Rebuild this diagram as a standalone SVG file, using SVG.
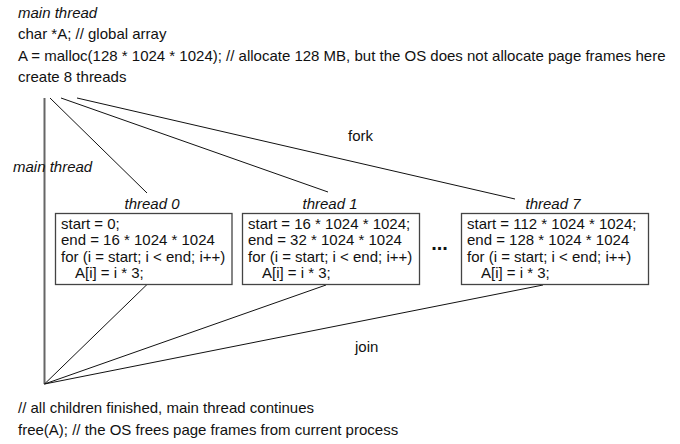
<svg xmlns="http://www.w3.org/2000/svg" width="680" height="444" viewBox="0 0 680 444">
<style>
text{font-family:"Liberation Sans",Arial,sans-serif;font-size:15px;fill:#111}
.it{font-style:italic}
.box{fill:#fff;stroke:#444;stroke-width:1.3}
.ln{stroke:#111;stroke-width:1;fill:none}
.main{stroke:#666;stroke-width:2;fill:none}
</style>
<rect width="680" height="444" fill="#fff"/>
<g id="header">
<text class="it" x="18" y="17.5">main thread</text>
<text x="18" y="39">char *A; // global array</text>
<text x="18" y="60.5">A = malloc(128 * 1024 * 1024); // allocate 128 MB, but the OS does not allocate page frames here</text>
<text x="18" y="82">create 8 threads</text>
</g>
<g id="connectors">
<line class="main" x1="44.5" y1="98" x2="44.5" y2="384"/>
<line class="ln" x1="50" y1="98" x2="147" y2="193"/>
<line class="ln" x1="61" y1="98" x2="328" y2="192"/>
<line class="ln" x1="77" y1="98" x2="515" y2="199"/>
<line class="ln" x1="44.5" y1="384" x2="147" y2="284.5"/>
<line class="ln" x1="44.5" y1="384" x2="326" y2="285"/>
<line class="ln" x1="44.5" y1="384" x2="543" y2="285"/>
<text x="348" y="141">fork</text>
<text x="355" y="352">join</text>
<text class="it" x="13" y="172">main thread</text>
</g>
<g id="thread0">
<text class="it" x="152" y="209" text-anchor="middle">thread 0</text>
<rect class="box" x="55.5" y="213.5" width="176.5" height="71"/>
<text x="61" y="228.5">start = 0;</text>
<text x="61" y="245">end = 16 * 1024 * 1024</text>
<text x="61" y="261.5">for (i = start; i &lt; end; i++)</text>
<text x="75" y="278">A[i] = i * 3;</text>
</g>
<g id="thread1">
<text class="it" x="330" y="209" text-anchor="middle">thread 1</text>
<rect class="box" x="242.5" y="213.5" width="177" height="71"/>
<text x="248" y="228.5">start = 16 * 1024 * 1024;</text>
<text x="248" y="245">end = 32 * 1024 * 1024</text>
<text x="248" y="261.5">for (i = start; i &lt; end; i++)</text>
<text x="262" y="278">A[i] = i * 3;</text>
</g>
<g id="ellipsis">
<text x="439.5" y="250" text-anchor="middle" style="font-weight:bold;font-size:20px">...</text>
</g>
<g id="thread7">
<text class="it" x="553" y="209" text-anchor="middle">thread 7</text>
<rect class="box" x="461.5" y="213.5" width="187" height="71"/>
<text x="467" y="228.5">start = 112 * 1024 * 1024;</text>
<text x="467" y="245">end = 128 * 1024 * 1024</text>
<text x="467" y="261.5">for (i = start; i &lt; end; i++)</text>
<text x="481" y="278">A[i] = i * 3;</text>
</g>
<g id="footer">
<text x="18" y="413">// all children finished, main thread continues</text>
<text x="18" y="434.5">free(A); // the OS frees page frames from current process</text>
</g>
</svg>
